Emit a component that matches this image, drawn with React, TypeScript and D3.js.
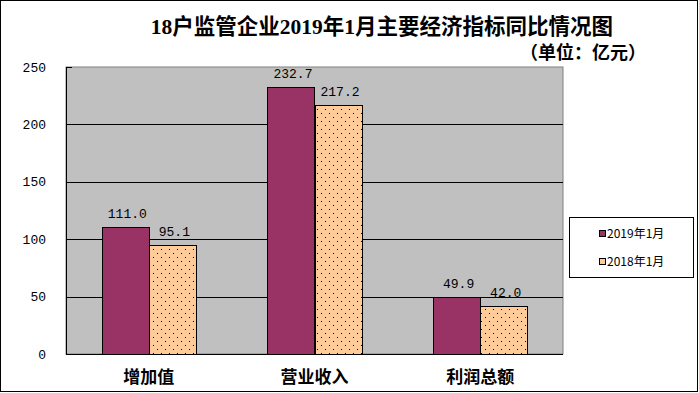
import * as d3 from "d3";

const categories = ["增加值", "营业收入", "利润总额"];
const seriesNames = ["2019年1月", "2018年1月"];
const values2019 = [111.0, 232.7, 49.9];
const values2018 = [95.1, 217.2, 42.0];
const yTicks = [0, 50, 100, 150, 200, 250];

const W = 699;
const H = 393;
const plot = { left: 66, right: 563, top: 67, bottom: 354 };
const colors = ["#993366", "url(#dots)"];
const monoFont = "'Liberation Mono', monospace";
const cjkFont = "'Noto Sans CJK SC', sans-serif";
const titleFont = "'Liberation Serif', 'Noto Sans CJK SC', serif";

export default function App() {
  const x0 = d3
    .scaleBand()
    .domain(categories)
    .range([plot.left, plot.right])
    .padding(0);
  const x1 = d3
    .scaleBand()
    .domain(seriesNames)
    .range([0, x0.bandwidth()])
    .paddingInner(0)
    .paddingOuter(0.76);
  const y = d3.scaleLinear().domain([0, 250]).range([plot.bottom, plot.top]);

  const series = [values2019, values2018];

  return (
    <svg
      width={W}
      height={H}
      style={{ position: "absolute", left: 0, top: 0, background: "#fff" }}
    >
      <defs>
        <pattern id="dots" width={8} height={8} patternUnits="userSpaceOnUse">
          <rect width={8} height={8} fill="#FFCC99" />
          <rect x={1} y={1} width={1} height={1} fill="#000" />
          <rect x={5} y={5} width={1} height={1} fill="#000" />
        </pattern>
      </defs>
      <rect x={0.5} y={0.5} width={W - 2} height={H - 2} fill="#fff" stroke="#000" />

      {/* plot area */}
      <rect
        x={plot.left}
        y={plot.top}
        width={plot.right - plot.left}
        height={plot.bottom - plot.top}
        fill="#C0C0C0"
        stroke="#808080"
      />
      {yTicks.slice(1, -1).map((t) => (
        <line
          key={t}
          x1={plot.left}
          x2={plot.right}
          y1={Math.round(y(t)) + 0.5}
          y2={Math.round(y(t)) + 0.5}
          stroke="#000"
        />
      ))}
      <line x1={plot.left + 0.5} x2={plot.left + 0.5} y1={plot.top} y2={plot.bottom} stroke="#000" />
      <line x1={plot.left} x2={plot.left + 6} y1={plot.top + 0.5} y2={plot.top + 0.5} stroke="#000" />

      {/* bars */}
      {categories.map((c, i) => (
        <g key={c}>
          {seriesNames.map((s, j) => {
            const v = series[j][i];
            const bx = x0(c)! + x1(s)!;
            return (
              <rect
                key={s}
                x={Math.round(bx) + 0.5}
                y={Math.round(y(v)) + 0.5}
                width={Math.round(x1.bandwidth())}
                height={Math.round(y(0) - y(v))}
                fill={colors[j]}
                stroke="#000"
              />
            );
          })}
          {seriesNames.map((s, j) => {
            const v = series[j][i];
            return (
              <text
                key={s}
                x={x0(c)! + x1(s)! + x1.bandwidth() / 2 + 2}
                y={y(v) - 9}
                textAnchor="middle"
                fontFamily={monoFont}
                fontSize={13}
                fill="#000"
              >
                {v.toFixed(1)}
              </text>
            );
          })}
        </g>
      ))}
      <line x1={plot.left} x2={plot.right} y1={plot.bottom + 0.5} y2={plot.bottom + 0.5} stroke="#000" />

      {/* y tick labels */}
      {yTicks.map((t) => (
        <text
          key={t}
          x={46}
          y={y(t)}
          dy="0.35em"
          textAnchor="end"
          fontFamily={monoFont}
          fontSize={13}
          fill="#000"
        >
          {t}
        </text>
      ))}

      {/* category labels */}
      {categories.map((c) => (
        <text
          key={c}
          x={x0(c)! + x0.bandwidth() / 2}
          y={383}
          textAnchor="middle"
          fontFamily={cjkFont}
          fontWeight="bold"
          fontSize={17}
          fill="#000"
        >
          {c}
        </text>
      ))}

      {/* title */}
      <text
        x={382}
        y={34}
        textAnchor="middle"
        fontFamily={titleFont}
        fontWeight="bold"
        fontSize={21.5}
        fill="#000"
      >
        18户监管企业2019年1月主要经济指标同比情况图
      </text>
      <text
        x={520}
        y={59}
        fontFamily={titleFont}
        fontWeight="bold"
        fontSize={18}
        fill="#000"
      >
        （单位：亿元）
      </text>

      {/* legend */}
      <rect x={569.5} y={217.5} width={124} height={60} fill="#fff" stroke="#000" />
      {seriesNames.map((s, j) => (
        <g key={s} transform={`translate(599, ${234 + j * 28})`}>
          <rect x={0.5} y={-3.5} width={6} height={6} fill={j === 0 ? "#993366" : "#FFCC99"} stroke="#000" />
          <text
            x={8}
            y={0}
            dy="0.35em"
            fontFamily={cjkFont}
            fontSize={12}
            fill="#000"
          >
            {s}
          </text>
        </g>
      ))}
    </svg>
  );
}
